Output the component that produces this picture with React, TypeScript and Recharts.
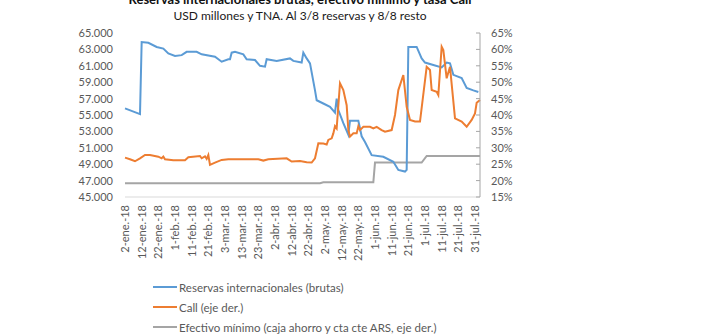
import { LineChart, Line, XAxis, YAxis } from "recharts";

// days counted from 2-ene-18
const xTickDays = [0, 10, 20, 30, 40, 50, 60, 70, 80, 90, 100, 110, 120, 130, 140, 150, 160, 170, 180, 190, 200, 210];
const xTickLabels = [
  "2-ene.-18", "12-ene.-18", "22-ene.-18", "1-feb.-18", "11-feb.-18", "21-feb.-18", "3-mar.-18", "13-mar.-18",
  "23-mar.-18", "2-abr.-18", "12-abr.-18", "22-abr.-18", "2-may.-18", "12-may.-18", "22-may.-18", "1-jun.-18",
  "11-jun.-18", "21-jun.-18", "1-jul.-18", "11-jul.-18", "21-jul.-18", "31-jul.-18",
];
const leftTicks = [45000, 47000, 49000, 51000, 53000, 55000, 57000, 59000, 61000, 63000, 65000];
const rightTicks = [15, 20, 25, 30, 35, 40, 45, 50, 55, 60, 65];

// Reservas internacionales (USD millones)
const reservas: [number, number][] = [
  [0, 55800], [9, 55100], [10, 63900], [14, 63800], [19, 63300], [23, 63100], [26, 62500], [30, 62200],
  [34, 62300], [37, 62700], [43, 62700], [46, 62400], [54, 62100], [58, 61500], [62, 61800], [63, 61800],
  [64, 62600], [66, 62700], [71, 62400], [73, 61800], [78, 61700], [81, 61000], [84, 60900], [85, 61800],
  [91, 61600], [99, 61900], [101, 61600], [106, 61400], [107, 62600], [109, 61900], [111, 61300], [114, 58000],
  [115, 56800], [119, 56400], [123, 56000], [126, 55300], [127, 57000], [128, 55600], [131, 54000], [134, 52600],
  [135, 54300], [140, 54300], [142, 52400], [144, 51700], [148, 50100], [155, 49900], [161, 49300], [164, 48300],
  [168, 48100], [169, 48300], [170, 63300], [175, 63300], [178, 61900], [180, 61400], [185, 61100], [190, 60800],
  [193, 61400], [195, 61300], [197, 59900], [202, 59500], [205, 58300], [209, 58000], [212, 57800],
];

// Call (%)
const call: [number, number][] = [
  [0, 27.0], [3, 26.5], [6, 25.9], [9, 26.8], [12, 27.8], [15, 27.8], [20, 27.3], [22, 26.8], [23, 27.3],
  [24, 26.5], [29, 26.2], [36, 26.2], [38, 27.1], [45, 27.5], [46, 26.8], [48, 27.4], [49, 26.6], [50, 27.8],
  [51, 24.8], [54, 25.5], [58, 26.3], [62, 26.5], [70, 26.5], [80, 26.5], [83, 26.1], [86, 26.5], [97, 26.8],
  [100, 25.8], [105, 26.0], [109, 25.6], [112, 25.5], [114, 26.8], [116, 31.4], [119, 31.3], [121, 31.0],
  [122, 32.4], [124, 32.9], [125, 34.4], [126, 36.6], [127, 35.9], [129, 49.7], [131, 47.6], [133, 43.0],
  [134, 35.4], [135, 33.4], [137, 34.4], [139, 34.4], [140, 36.6], [141, 35.4], [143, 36.4], [147, 36.4],
  [149, 35.9], [151, 36.4], [154, 35.4], [156, 34.9], [160, 35.4], [162, 40.0], [164, 47.6], [167, 52.2],
  [169, 42.5], [171, 38.5], [174, 38.0], [177, 38.0], [181, 54.7], [183, 53.7], [184, 47.6], [187, 47.1],
  [188, 46.1], [190, 60.8], [191, 59.8], [193, 51.2], [195, 54.7], [198, 39.0], [202, 38.0], [205, 36.4],
  [208, 38.5], [210, 40.5], [211, 43.7], [213, 44.6],
];

// Efectivo minimo (%)
const efectivo: [number, number][] = [
  [0, 19.2], [117, 19.2], [119, 19.5], [149, 19.5], [150, 25.5], [178, 25.5], [181, 27.5], [213, 27.5],
];

const toRows = (arr: [number, number][]) => arr.map(([day, v]) => ({ day, v }));

const BLUE = "#5b9bd5";
const ORANGE = "#ed7d31";
const GRAY = "#a5a5a5";
const FONT = "Lato, 'Open Sans', sans-serif";
const tickStyle = { fill: "#595959", fontSize: 11, fontFamily: FONT };

const DateTick = (props: any) => {
  const { x, y, payload } = props;
  const label = xTickLabels[Math.round(payload.value / 10)];
  return (
    <text x={x} y={y} dy="0.35em" textAnchor="end" transform={`rotate(-90, ${x}, ${y})`} style={tickStyle}>
      {label}
    </text>
  );
};

const legendItems = [
  { label: "Reservas internacionales (brutas)", color: BLUE },
  { label: "Call (eje der.)", color: ORANGE },
  { label: "Efectivo mínimo (caja ahorro y cta cte ARS, eje der.)", color: GRAY },
];

export default function App() {
  return (
    <div style={{ position: "absolute", left: 0, top: 0, width: 702, height: 336, background: "#fff", overflow: "hidden", fontFamily: FONT }}>
      <div style={{ position: "absolute", left: 0, width: 600, top: -8, textAlign: "center", fontSize: 13, fontWeight: 700, lineHeight: "14px", color: "#111" }}>
        Reservas internacionales brutas, efectivo mínimo y tasa Call
      </div>
      <div style={{ position: "absolute", left: 0, width: 600, top: 9, textAlign: "center", fontSize: 12, lineHeight: "14px", color: "#1a1a1a" }}>
        USD millones y TNA. Al 3/8 reservas y 8/8 resto
      </div>

      <LineChart width={702} height={336} margin={{ top: 33, right: 162, bottom: 69, left: 45 }} style={{ position: "absolute", left: 0, top: 0 }}>
        <XAxis
          dataKey="day"
          type="number"
          domain={[0, 213]}
          ticks={xTickDays}
          interval={0}
          height={70}
          axisLine={{ stroke: "#d9d9d9" }}
          tickLine={false}
          tick={<DateTick />}
          allowDuplicatedCategory={false}
        />
        <YAxis
          yAxisId="left"
          width={80}
          domain={[45000, 65000]}
          ticks={leftTicks}
          interval={0}
          axisLine={false}
          tickLine={false}
          tickMargin={6}
          tick={tickStyle}
          tickFormatter={(v: number) => v.toLocaleString("de-DE", { minimumFractionDigits: 0 })}
        />
        <YAxis
          yAxisId="right"
          orientation="right"
          width={60}
          domain={[15, 65]}
          ticks={rightTicks}
          interval={0}
          axisLine={{ stroke: "#a6a6a6" }}
          tickLine={{ stroke: "#a6a6a6" }}
          tickSize={-4}
          tickMargin={15}
          tick={tickStyle}
          tickFormatter={(v: number) => `${v}%`}
        />
        <Line yAxisId="right" data={toRows(efectivo)} dataKey="v" stroke={GRAY} strokeWidth={2} dot={false} isAnimationActive={false} />
        <Line yAxisId="left" data={toRows(reservas)} dataKey="v" stroke={BLUE} strokeWidth={2} dot={false} isAnimationActive={false} />
        <Line yAxisId="right" data={toRows(call)} dataKey="v" stroke={ORANGE} strokeWidth={2} dot={false} isAnimationActive={false} />
      </LineChart>

      {legendItems.map((it, i) => (
        <div key={it.label} style={{ position: "absolute", left: 153, top: 279 + i * 20, height: 16, display: "flex", alignItems: "center", fontSize: 11.5, color: "#595959" }}>
          <span style={{ display: "inline-block", width: 24, height: 2, background: it.color, marginRight: 2 }} />
          {it.label}
        </div>
      ))}
    </div>
  );
}
